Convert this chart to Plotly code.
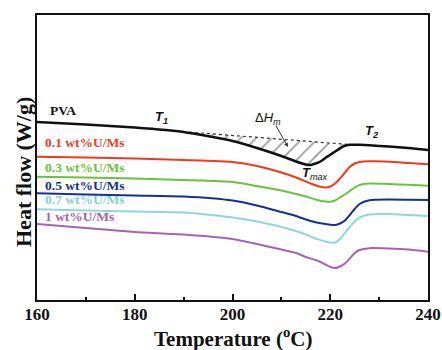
import plotly.graph_objects as go

# Temperature grid (°C)
temperature = [160, 170, 180, 190, 200, 205, 210, 213, 215, 216, 217, 218, 219,
               220, 221, 222, 223, 224, 225, 226, 228, 232, 236, 240]

# Heat flow (arbitrary offset units)
pva = [178, 175.5, 172.5, 168, 159, 152, 144, 138.5, 135.5, 135, 136.5, 138.5, 142,
       145.2, 148.5, 151.7, 154.2, 155.2, 155.3, 155.2, 154.7, 153.5, 152, 150]
u01 = [143.3, 142.5, 141.5, 140, 138, 134, 127.5, 122.5, 118.5, 116.5, 114.7, 113.2, 112.5,
       113.5, 116.5, 121.5, 127.5, 133, 136.5, 138, 138.7, 138.3, 137, 135.7]
u03 = [123.3, 122.5, 121.5, 120, 118, 114, 109.5, 106, 103.5, 102, 100.5, 99.3, 98.5,
       98.3, 99.5, 102.5, 105.5, 109, 112.5, 115, 116.5, 116, 115.2, 114.3]
u05 = [106.7, 105.5, 104.5, 103.5, 99.5, 94.5, 88, 84, 80.5, 79, 77.8, 76.8, 76,
       75.3, 75, 76.5, 79.5, 85, 91, 96, 99.7, 100.5, 100.3, 100]
u07 = [90.7, 89.5, 88.5, 87.5, 82.5, 78.5, 73, 69, 65.5, 63.5, 61.5, 60, 58.5,
       57.5, 57.5, 61, 67, 73, 78.5, 82.5, 85.5, 86, 85, 84]
u1 = [76, 72, 68, 65.5, 61, 56, 50.5, 47, 43, 41.5, 40, 38, 35.5,
      33, 32, 33.5, 36.5, 41.5, 47, 50, 51.8, 51.5, 50.5, 48.3]

series_names = ["PVA", "0.1 wt%U/Ms", "0.3 wt%U/Ms", "0.5 wt%U/Ms", "0.7 wt%U/Ms", "1 wt%U/Ms"]
series_values = [pva, u01, u03, u05, u07, u1]
series_colors = ["#111111", "#f03a1c", "#6cc23e", "#15318d", "#8fd6e2", "#a564b2"]

# Melting baseline endpoints (T1, T2)
t1, t2 = 185.0, 224.5

# page-pixel -> data helpers (for placing text only)
PX_PER_C = 391 / 80.0


def px2t(px):
    return 160 + (px - 37) / PX_PER_C


def py2v(py):
    return 300 - py


def interp(x, xs, ys):
    for i in range(len(xs) - 1):
        if xs[i] <= x <= xs[i + 1]:
            f = (x - xs[i]) / (xs[i + 1] - xs[i])
            return ys[i] + f * (ys[i + 1] - ys[i])
    return ys[-1]


fig = go.Figure()

y1, y2 = interp(t1, temperature, pva), interp(t2, temperature, pva)
seg_x = [t1] + [t for t in temperature if t1 < t < t2] + [t2]
seg_y = [interp(t, temperature, pva) for t in seg_x]
base_y = [y1 + (t - t1) / (t2 - t1) * (y2 - y1) for t in seg_x]

# dotted baseline
fig.add_trace(go.Scatter(x=seg_x, y=base_y, mode="lines",
                         line=dict(color="#333", width=1.2, dash="dot"),
                         showlegend=False, hoverinfo="skip"))
# hatched area
fig.add_trace(go.Scatter(x=seg_x, y=seg_y, mode="lines", line=dict(width=0, color="rgba(0,0,0,0)"),
                         fill="tonexty", fillcolor="rgba(0,0,0,0)",
                         fillpattern=dict(shape="/", fgcolor="#333", bgcolor="rgba(255,255,255,0)",
                                          size=11, solidity=0.15),
                         showlegend=False, hoverinfo="skip"))

for name, vals, col in zip(series_names, series_values, series_colors):
    fig.add_trace(go.Scatter(x=temperature, y=vals, mode="lines", name=name,
                             line=dict(color=col, width=2.5 if name == "PVA" else 2,
                                       shape="spline", smoothing=0.6),
                             showlegend=False))

serif = "Liberation Serif"
sans = "Liberation Sans"

label_pos = [(48, 110), (43, 142.3), (43, 167.7), (43, 185), (43, 199), (43, 216.7)]
for name, (px, py), col in zip(series_names, label_pos, series_colors):
    fig.add_annotation(x=px2t(px), y=py2v(py), text="<b>" + name + "</b>", showarrow=False,
                       xanchor="left", yanchor="middle",
                       font=dict(family=serif, size=13.5, color=col if col != "#8fd6e2" else "#86d0dc"))

ann_font = dict(family=sans, size=13, color="#111")
fig.add_annotation(x=px2t(161), y=py2v(117), text="<b><i>T</i></b><sub><b><i>1</i></b></sub>",
                   showarrow=False, font=ann_font)
fig.add_annotation(x=px2t(268), y=py2v(118), text="Δ<i>H</i><sub><i>m</i></sub>",
                   showarrow=False, font=ann_font)
fig.add_annotation(x=px2t(371), y=py2v(131), text="<b><i>T</i></b><sub><b><i>2</i></b></sub>",
                   showarrow=False, font=ann_font)
fig.add_annotation(x=px2t(315), y=py2v(173), text="<b><i>T</i></b><sub><i>max</i></sub>",
                   showarrow=False, font=ann_font)
fig.add_annotation(x=px2t(288), y=py2v(147), ax=px2t(275), ay=py2v(124),
                   axref="x", ayref="y", xref="x", yref="y", text="", showarrow=True,
                   arrowhead=2, arrowsize=0.8, arrowwidth=1, arrowcolor="#333")

# axis titles
fig.add_annotation(xref="paper", yref="paper", x=(24 - 37) / 391, y=(300 - 172) / 285,
                   text="<b>Heat flow (W/g)</b>", textangle=-90, showarrow=False,
                   xanchor="center", yanchor="middle",
                   font=dict(family=serif, size=22, color="#111"))
fig.add_annotation(xref="paper", yref="paper", x=(233 - 37) / 391, y=(300 - 337) / 285,
                   text="<b>Temperature (<sup>o</sup>C)</b>", showarrow=False,
                   xanchor="center", yanchor="middle",
                   font=dict(family=serif, size=21, color="#111"))

fig.update_xaxes(range=[160, 240], dtick=20, tick0=160, ticks="inside", ticklen=6, tickwidth=2,
                 tickcolor="#111", showline=True, linecolor="#111", linewidth=2, mirror=True,
                 showgrid=False, zeroline=False, automargin=False, ticklabelstandoff=-2,
                 ticklabeloverflow="allow",
                 minor=dict(dtick=10, ticks="inside", ticklen=3, tickwidth=2, tickcolor="#111"),
                 tickfont=dict(family=serif, size=17, color="#111", weight="bold"))
fig.update_yaxes(range=[0, 285], showticklabels=False, ticks="", showline=True, linecolor="#111",
                 linewidth=2, mirror=True, showgrid=False, zeroline=False, automargin=False)

fig.update_layout(width=442, height=350, margin=dict(l=37, r=14, t=15, b=50),
                  plot_bgcolor="white", paper_bgcolor="white",
                  font=dict(family=serif))

# remove the default 8 px page margin so the figure fills the window exactly
fig.write_html("out.html", config={"displayModeBar": False},
               post_script="document.body.style.margin='0';document.body.style.overflow='hidden';")
